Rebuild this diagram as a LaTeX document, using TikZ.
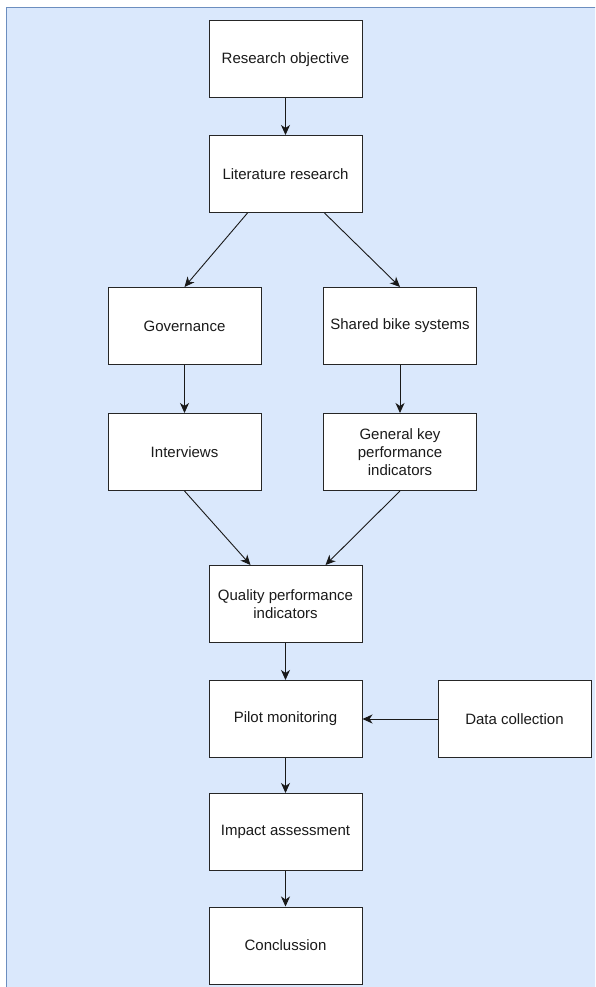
\documentclass[tikz,border=0pt]{standalone}
\usepackage{fontspec}
\setmainfont{Liberation Sans}
\usetikzlibrary{arrows.meta}
\definecolor{bgblue}{HTML}{DAE8FC}
\definecolor{bgline}{HTML}{6C8EBF}
\definecolor{txt}{HTML}{1A1A1A}
\tikzset{
  box/.style={draw=black!85, line width=1pt, fill=white, minimum width=153pt, minimum height=77pt, inner sep=0pt, align=center, font=\fontsize{15pt}{18pt}\selectfont, text=txt},
  conn/.style={draw=black!90, line width=0.9pt, -{Stealth[length=10pt,width=9pt,inset=3pt]}}
}
\begin{document}
\begin{tikzpicture}[x=1pt,y=-1pt]
\useasboundingbox (0,0) rectangle (595,987);
\clip (0,0) rectangle (595,987);
\fill[white] (0,0) rectangle (595,987);
\filldraw[fill=bgblue, draw=bgline, line width=1pt] (6,8) rectangle (610,1000);
\node[box] (ro) at (285.5,59.5) {Research objective};
\node[box] (lr) at (285.5,174) {Literature research};
\node[box] (gov) at (184.5,326) {Governance};
\node[box] (sbs) at (400,326) {Shared bike systems};
\node[box] (int) at (184.5,452) {Interviews};
\node[box] (gkpi) at (400,452) {General key\\performance\\indicators};
\node[box] (qpi) at (285.5,604) {Quality performance\\indicators};
\node[box] (pm) at (285.5,719) {Pilot monitoring};
\node[box] (dc) at (514.5,719) {Data collection};
\node[box] (ia) at (285.5,832) {Impact assessment};
\node[box] (con) at (285.5,945.5) {Conclussion};
\draw[conn] (ro) -- (lr);
\draw[conn] ([xshift=-38pt]lr.south) -- (gov.north);
\draw[conn] ([xshift=39pt]lr.south) -- (sbs.north);
\draw[conn] (gov) -- (int);
\draw[conn] (sbs) -- (gkpi);
\draw[conn] (int.south) -- ([xshift=-35pt]qpi.north);
\draw[conn] (gkpi.south) -- ([xshift=40pt]qpi.north);
\draw[conn] (qpi) -- (pm);
\draw[conn] (dc) -- (pm);
\draw[conn] (pm) -- (ia);
\draw[conn] (ia) -- (con);
\end{tikzpicture}
\end{document}
